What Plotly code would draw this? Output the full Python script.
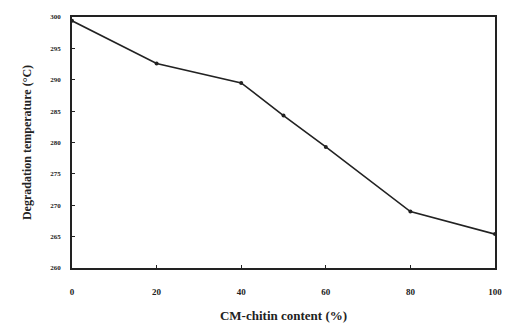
import plotly.graph_objects as go

cm_chitin = [0, 20, 40, 50, 60, 80, 100]
degradation_temp = [299.4, 292.6, 289.5, 284.3, 279.3, 269.0, 265.4]
x_ticks = [0, 20, 40, 60, 80, 100]
y_ticks = [260, 265, 270, 275, 280, 285, 290, 295, 300]

fig = go.Figure()
fig.add_trace(go.Scatter(
    x=cm_chitin, y=degradation_temp, mode="lines+markers",
    line=dict(color="#222", width=1.6),
    marker=dict(color="#222", size=4),
    showlegend=False, cliponaxis=False,
))

font_serif = "Liberation Serif, DejaVu Serif, serif"
# page body has an 8px default margin, so the figure is sized to fit 512x325
fig.update_layout(
    width=504, height=317,
    margin=dict(l=64, r=17, t=9, b=57),
    paper_bgcolor="white", plot_bgcolor="white",
    font=dict(family=font_serif, color="#222"),
)
fig.update_xaxes(
    range=[0, 100], tickvals=x_ticks, ticktext=[f"<b>{v}</b>" for v in x_ticks],
    showline=True, linecolor="#222", linewidth=1.5, mirror=True,
    ticks="inside", ticklen=3, tickcolor="#222", showgrid=False, zeroline=False,
    tickfont=dict(size=9), ticklabelstandoff=14, automargin=False,
    title=dict(text="<b>CM-chitin content (%)</b>", font=dict(size=13), standoff=15),
)
fig.update_yaxes(
    range=[260, 300], tickvals=y_ticks, ticktext=[f"<b>{v}</b>" for v in y_ticks],
    showline=True, linecolor="#222", linewidth=1.5, mirror=True,
    ticks="inside", ticklen=3, tickcolor="#222", showgrid=False, zeroline=False,
    automargin=False,
    tickfont=dict(size=7), ticklabelstandoff=8,
    title=dict(text="<b>Degradation temperature (°C)</b>", font=dict(size=12), standoff=16),
)
fig.write_html("out.html")
